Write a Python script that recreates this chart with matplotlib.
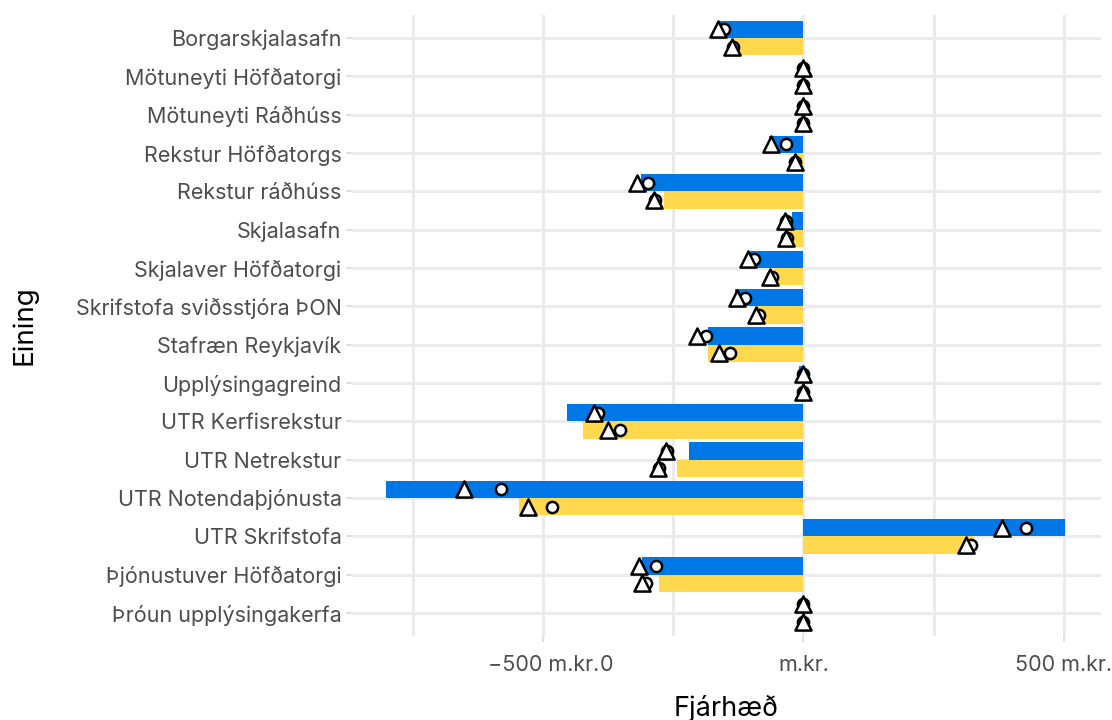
import matplotlib
matplotlib.use("Agg")
import matplotlib.pyplot as plt
import numpy as np

plt.rcParams['font.family'] = ['Inter', 'DejaVu Sans']

# data (m.kr.), top to bottom
units = ["Borgarskjalasafn", "Mötuneyti Höfðatorgi", "Mötuneyti Ráðhúss",
         "Rekstur Höfðatorgs", "Rekstur ráðhúss", "Skjalasafn",
         "Skjalaver Höfðatorgi", "Skrifstofa sviðsstjóra ÞON",
         "Stafræn Reykjavík", "Upplýsingagreind", "UTR Kerfisrekstur",
         "UTR Netrekstur", "UTR Notendaþjónusta", "UTR Skrifstofa",
         "Þjónustuver Höfðatorgi", "Þróun upplýsingakerfa"]

bar_blue = [-160, -1, -1, -67, -313, -23, -102, -131, -183, -8, -454, -221, -802, 502, -310, -1]
bar_yellow = [-138, -1, -1, -19, -269, -29, -56, -87, -183, -1, -423, -244, -546, 327, -277, -1]
circ_blue = [-152, 0, 0, -33, -298, -33, -96, -113, -188, 0, -396, -262, -581, 427, -283, 0]
circ_yellow = [-135, 0, 0, -17, -285, -31, -60, -85, -142, 0, -352, -277, -483, 323, -302, 0]
tri_blue = [-165, 0, 0, -62, -321, -35, -106, -127, -204, 0, -403, -265, -652, 381, -317, 0]
tri_yellow = [-137, 0, 0, -17, -288, -33, -65, -92, -162, 0, -375, -279, -529, 313, -310, 0]

xticks = [-500, 0, 500]
xticklabels = ["\u2212500 m.kr.", "m.kr.", "500 m.kr."]

BLUE = "#0077E6"
YELLOW = "#FFD84D"

fig = plt.figure(figsize=(11.12, 7.2), dpi=100)
ax = fig.add_axes([352 / 1112, 84 / 720, (1101 - 352) / 1112, (705 - 84) / 720])

y = np.arange(len(units))
h = 0.45
ax.barh(y - h / 2, bar_blue, height=h, color=BLUE, zorder=2)
ax.barh(y + h / 2, bar_yellow, height=h, color=YELLOW, zorder=2)

mk = dict(facecolor="white", edgecolor="black", linewidths=1.8, zorder=3)
ax.scatter(circ_blue, y - h / 2, marker="o", s=65, **mk)
ax.scatter(circ_yellow, y + h / 2, marker="o", s=65, **mk)
ax.scatter(tri_blue, y - h / 2, marker="^", s=135, **mk)
ax.scatter(tri_yellow, y + h / 2, marker="^", s=135, **mk)

ax.set_xlim(-868, 572)
ax.set_ylim(len(units) - 0.4, -0.6)

ax.set_yticks(y)
ax.set_yticklabels(units)
ax.set_xticks(xticks)
ax.set_xticklabels(xticklabels)
ax.set_xticks([-750, -250, 250], minor=True)

for s in ax.spines.values():
    s.set_visible(False)

ax.grid(True, which="major", color="#EBEBEB", linewidth=2.2, zorder=0)
ax.grid(True, which="minor", axis="x", color="#EBEBEB", linewidth=2.2, zorder=0)
ax.set_axisbelow(True)
ax.tick_params(axis="both", which="major", labelsize=15.5, labelcolor="#4D4D4D",
               color="#E0E0E0", length=4, width=1.5)
ax.tick_params(axis="x", which="major", pad=10)
ax.tick_params(axis="x", which="minor", length=0)

# the zero label sits apart from its unit in the original
ax.annotate("0", xy=(-379, 0), xycoords=("data", "axes fraction"),
            xytext=(0, -14), textcoords="offset points", ha="center", va="top",
            fontsize=15.5, color="#4D4D4D")

ax.set_xlabel("Fjárhæð", fontsize=19.5, labelpad=14)
ax.set_ylabel("Eining", fontsize=20)
ax.yaxis.set_label_coords(-0.42, 0.5)

fig.savefig("out.png", dpi=100)
